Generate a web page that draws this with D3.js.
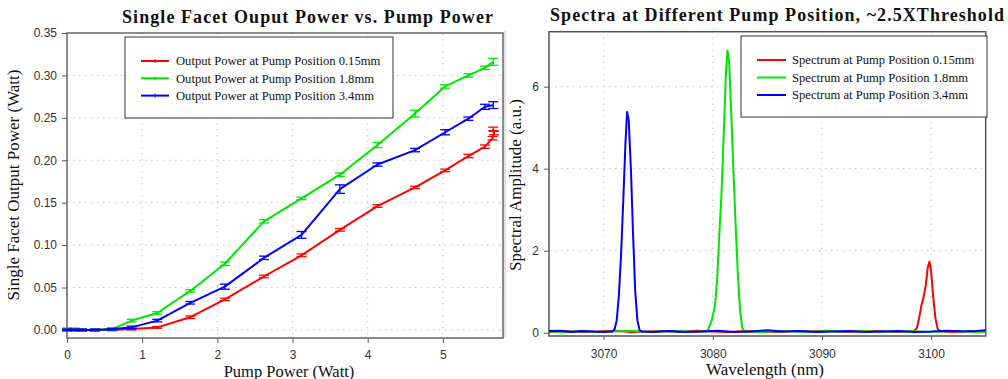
<!DOCTYPE html>
<html>
<head>
<meta charset="utf-8">
<script src="https://cdn.jsdelivr.net/npm/d3@7"></script>
<style>
  body { margin: 0; background: #fff; }
  svg { display: block; }
  .tick text { font-family: "Liberation Sans", Arial, sans-serif; font-size: 12px; fill: #333; }
  .tick line { stroke: #555; }
  .grid line { stroke: #c8c8c8; stroke-dasharray: 1.5,4.5; }
  .serif { font-family: "Liberation Serif", "Times New Roman", serif; fill: #111; }
</style>
</head>
<body>
<svg width="1008" height="379"></svg>
<script>
// left chart: output power vs pump power (x, y, error)
const seriesNames = ["Output Power at Pump Position 0.15mm", "Output Power at Pump Position 1.8mm", "Output Power at Pump Position 3.4mm"];
const specNames = ["Spectrum at Pump Position 0.15mm", "Spectrum at Pump Position 1.8mm", "Spectrum at Pump Position 3.4mm"];
const colors = ["#ff0000", "#00e600", "#0000ff"];

const powerRed = [
  [0, 0.001, 0.001], [0.1, 0.001, 0.001], [0.2, 0.0, 0.001], [0.37, 0.0, 0.001], [0.6, 0.0, 0.001],
  [0.86, 0.001, 0.001], [1.2, 0.003, 0.001], [1.64, 0.015, 0.0015], [2.1, 0.036, 0.0015], [2.62, 0.063, 0.0015],
  [3.12, 0.088, 0.0015], [3.63, 0.118, 0.0015], [4.13, 0.146, 0.0015], [4.63, 0.168, 0.0015], [5.03, 0.188, 0.0015],
  [5.34, 0.205, 0.002], [5.56, 0.216, 0.002], [5.66, 0.226, 0.002], [5.68, 0.232, 0.002], [5.67, 0.237, 0.002]
];
const powerGreen = [
  [0, 0.0, 0.001], [0.1, 0.0, 0.001], [0.2, 0.0, 0.001], [0.37, 0.0, 0.001], [0.6, 0.001, 0.001],
  [0.86, 0.011, 0.0015], [1.2, 0.020, 0.0015], [1.64, 0.046, 0.0015], [2.1, 0.078, 0.002], [2.62, 0.128, 0.002],
  [3.12, 0.155, 0.0015], [3.63, 0.183, 0.002], [4.13, 0.218, 0.003], [4.63, 0.255, 0.004], [5.03, 0.287, 0.002],
  [5.34, 0.300, 0.002], [5.56, 0.309, 0.002], [5.67, 0.316, 0.004]
];
const powerBlue = [
  [0, 0.0, 0.001], [0.1, 0.0, 0.001], [0.2, 0.0, 0.001], [0.37, 0.0, 0.001], [0.6, 0.001, 0.001],
  [0.86, 0.003, 0.0015], [1.2, 0.011, 0.0015], [1.64, 0.032, 0.0015], [2.1, 0.051, 0.003], [2.62, 0.085, 0.002],
  [3.12, 0.112, 0.004], [3.63, 0.166, 0.005], [4.13, 0.195, 0.002], [4.63, 0.212, 0.002], [5.03, 0.233, 0.003],
  [5.34, 0.249, 0.002], [5.56, 0.263, 0.003], [5.67, 0.265, 0.004]
];

const pumpTicks = [0, 1, 2, 3, 4, 5];
const powerTicks = [0, 0.05, 0.10, 0.15, 0.20, 0.25, 0.30, 0.35];

// right chart: spectra (wavelength nm, amplitude a.u.)
const specRed = [
  [3065, 0.02], [3066.5, 0.04], [3068, 0.02], [3069.5, 0.03], [3071, 0.05], [3072.5, 0.02], [3074, 0.03],
  [3075.5, 0.04], [3077, 0.02], [3078.5, 0.05], [3080, 0.03], [3081.5, 0.02], [3083, 0.04], [3084.5, 0.03],
  [3086, 0.02], [3087.5, 0.04], [3089, 0.03], [3090.5, 0.05], [3092, 0.02], [3093.5, 0.03], [3095, 0.04],
  [3096.5, 0.02], [3098, 0.03], [3098.4, 0.03], [3098.7, 0.12], [3098.9, 0.35], [3099.1, 0.65], [3099.3, 0.85],
  [3099.5, 1.15], [3099.7, 1.6], [3099.85, 1.73], [3100.0, 1.5], [3100.2, 0.85], [3100.4, 0.35], [3100.6, 0.1],
  [3100.8, 0.03], [3102, 0.02], [3103.5, 0.04], [3105, 0.03]
];
const specGreen = [
  [3065, 0.03], [3066.5, 0.02], [3068, 0.04], [3069.5, 0.02], [3071, 0.03], [3072.5, 0.05], [3074, 0.02],
  [3075.5, 0.03], [3077, 0.04], [3078.5, 0.02], [3079.4, 0.03], [3079.6, 0.08], [3079.9, 0.3], [3080.2, 0.65],
  [3080.4, 1.3], [3080.6, 2.4], [3080.8, 3.4], [3081.0, 4.8], [3081.2, 6.3], [3081.35, 6.88], [3081.5, 6.6],
  [3081.7, 5.3], [3081.9, 3.9], [3082.1, 2.6], [3082.3, 1.4], [3082.5, 0.55], [3082.7, 0.12], [3082.9, 0.03],
  [3084.5, 0.02], [3086, 0.04], [3087.5, 0.03], [3089, 0.02], [3090.5, 0.04], [3092, 0.03], [3093.5, 0.05],
  [3095, 0.02], [3096.5, 0.03], [3098, 0.04], [3099.5, 0.02], [3101, 0.03], [3102.5, 0.05], [3104, 0.02], [3105, 0.03]
];
const specBlue = [
  [3065, 0.04], [3066, 0.05], [3067, 0.02], [3068, 0.04], [3069, 0.03], [3070, 0.02], [3070.8, 0.03],
  [3071.0, 0.08], [3071.2, 0.3], [3071.4, 0.9], [3071.6, 1.9], [3071.8, 3.2], [3072.0, 4.6], [3072.15, 5.38],
  [3072.3, 5.2], [3072.5, 4.0], [3072.7, 2.4], [3072.9, 1.0], [3073.1, 0.3], [3073.3, 0.06], [3073.5, 0.03],
  [3074.5, 0.02], [3076, 0.04], [3077.5, 0.02], [3079, 0.03], [3080.5, 0.05], [3082, 0.02], [3083.5, 0.03],
  [3085, 0.06], [3086.5, 0.03], [3088, 0.04], [3089.5, 0.02], [3091, 0.03], [3092.5, 0.04], [3094, 0.02],
  [3095.5, 0.03], [3097, 0.04], [3098.5, 0.02], [3100, 0.03], [3101.5, 0.05], [3103, 0.03], [3104.2, 0.04], [3105, 0.06]
];
const waveTicks = [3070, 3080, 3090, 3100];
const ampTicks = [0, 2, 4, 6];

var svg = d3.select("svg");

// ---------- left panel ----------
var L = { left: 67, right: 503, top: 33, bottom: 338 };
var xL = d3.scaleLinear().domain([0, 5.8]).range([L.left, L.right]);
var yL = d3.scaleLinear().domain([-0.0095, 0.35]).range([L.bottom, L.top]);

var gl = svg.append("g");

gl.append("g").attr("class", "grid")
  .selectAll("line").data(pumpTicks.slice(1)).join("line")
  .attr("x1", d => xL(d)).attr("x2", d => xL(d))
  .attr("y1", L.top).attr("y2", L.bottom);
gl.append("g").attr("class", "grid")
  .selectAll("line").data(powerTicks.slice(0, -1)).join("line")
  .attr("x1", L.left).attr("x2", L.right)
  .attr("y1", d => yL(d)).attr("y2", d => yL(d));

gl.append("g")
  .attr("transform", "translate(0," + L.bottom + ")")
  .call(d3.axisBottom(xL).tickValues(pumpTicks).tickFormat(d3.format("d")).tickSize(5).tickPadding(7))
  .call(g => g.select(".domain").remove());
gl.append("g")
  .attr("transform", "translate(" + L.left + ",0)")
  .call(d3.axisLeft(yL).tickValues(powerTicks).tickFormat(d3.format(".2f")).tickSize(5).tickPadding(5))
  .call(g => g.select(".domain").remove());

gl.append("rect")
  .attr("x", L.left).attr("y", L.top)
  .attr("width", L.right - L.left).attr("height", L.bottom - L.top)
  .attr("fill", "none").attr("stroke", "#666").attr("stroke-width", 1.5);

var powerLine = d3.line().x(d => xL(d[0])).y(d => yL(d[1]));

[powerRed, powerGreen, powerBlue].forEach(function(s, i) {
  gl.append("path")
    .datum(s)
    .attr("fill", "none")
    .attr("stroke", colors[i])
    .attr("stroke-width", 2)
    .attr("stroke-linejoin", "round")
    .attr("d", powerLine);
  var eb = gl.append("g").attr("stroke", colors[i]).attr("stroke-width", 1.3);
  s.forEach(function(d) {
    var x = xL(d[0]), y0 = yL(d[1] - d[2]), y1 = yL(d[1] + d[2]);
    eb.append("line").attr("x1", x).attr("x2", x).attr("y1", y0).attr("y2", y1);
    eb.append("line").attr("x1", x - 5).attr("x2", x + 5).attr("y1", y0).attr("y2", y0);
    eb.append("line").attr("x1", x - 5).attr("x2", x + 5).attr("y1", y1).attr("y2", y1);
  });
});

// legend left
var legL = gl.append("g");
legL.append("rect")
  .attr("x", 125).attr("y", 37).attr("width", 268).attr("height", 81)
  .attr("fill", "#fff").attr("stroke", "#333").attr("stroke-width", 1);
seriesNames.forEach(function(n, i) {
  var y = 61 + i * 17.3;
  legL.append("line").attr("x1", 141).attr("x2", 169).attr("y1", y).attr("y2", y)
    .attr("stroke", colors[i]).attr("stroke-width", 2);
  legL.append("line").attr("x1", 155).attr("x2", 155).attr("y1", y - 2).attr("y2", y + 2)
    .attr("stroke", colors[i]).attr("stroke-width", 1);
  legL.append("text").attr("class", "serif")
    .attr("x", 176).attr("y", y + 4.3)
    .attr("font-size", 12.6)
    .text(n);
});

gl.append("text").attr("class", "serif")
  .attr("x", 122).attr("y", 22.5)
  .attr("font-size", 18).attr("font-weight", "bold")
  .attr("textLength", 371).attr("lengthAdjust", "spacing")
  .text("Single Facet Ouput Power vs. Pump Power");
gl.append("text").attr("class", "serif")
  .attr("x", 289).attr("y", 376.5)
  .attr("text-anchor", "middle").attr("font-size", 16.5)
  .text("Pump Power (Watt)");
gl.append("text").attr("class", "serif")
  .attr("transform", "translate(19,185) rotate(-90)")
  .attr("text-anchor", "middle").attr("font-size", 17)
  .text("Single Facet Output Power (Watt)");

// ---------- right panel ----------
var R = { left: 549, right: 985.7, top: 31.7, bottom: 336 };
var xR = d3.scaleLinear().domain([3065, 3105]).range([R.left, R.right]);
var yR = d3.scaleLinear().domain([-0.08, 7.34]).range([R.bottom, R.top]);

var gr = svg.append("g");

gr.append("line").attr("x1", 505).attr("x2", 505).attr("y1", 30).attr("y2", 337)
  .attr("stroke", "#d8d8d8").attr("stroke-width", 1.5);

gr.append("g").attr("class", "grid")
  .selectAll("line").data(waveTicks).join("line")
  .attr("x1", d => xR(d)).attr("x2", d => xR(d))
  .attr("y1", R.top).attr("y2", R.bottom);
gr.append("g").attr("class", "grid")
  .selectAll("line").data(ampTicks.slice(1)).join("line")
  .attr("x1", R.left).attr("x2", R.right)
  .attr("y1", d => yR(d)).attr("y2", d => yR(d));

gr.append("g")
  .attr("transform", "translate(0," + R.bottom + ")")
  .call(d3.axisBottom(xR).tickValues(waveTicks).tickFormat(d3.format("d")).tickSize(4).tickPadding(9))
  .call(g => g.select(".domain").remove());
gr.append("g")
  .attr("transform", "translate(" + R.left + ",0)")
  .call(d3.axisLeft(yR).tickValues(ampTicks).tickFormat(d3.format("d")).tickSize(5).tickPadding(5))
  .call(g => g.select(".domain").remove());

gr.append("rect")
  .attr("x", R.left).attr("y", R.top)
  .attr("width", R.right - R.left).attr("height", R.bottom - R.top)
  .attr("fill", "none").attr("stroke", "#555").attr("stroke-width", 1.5);

var specLine = d3.line().x(d => xR(d[0])).y(d => yR(d[1]));
[specRed, specGreen, specBlue].forEach(function(s, i) {
  gr.append("path")
    .datum(s)
    .attr("fill", "none")
    .attr("stroke", colors[i])
    .attr("stroke-width", 2)
    .attr("stroke-linejoin", "round")
    .attr("d", specLine);
});

var legR = gr.append("g");
legR.append("rect")
  .attr("x", 741).attr("y", 36).attr("width", 246).attr("height", 81)
  .attr("fill", "#fff").attr("stroke", "#333").attr("stroke-width", 1);
specNames.forEach(function(n, i) {
  var y = 60 + i * 17.5;
  legR.append("line").attr("x1", 757).attr("x2", 786).attr("y1", y).attr("y2", y)
    .attr("stroke", colors[i]).attr("stroke-width", 2);
  legR.append("text").attr("class", "serif")
    .attr("x", 792).attr("y", y + 4.3)
    .attr("font-size", 12.6)
    .text(n);
});

gr.append("text").attr("class", "serif")
  .attr("x", 550).attr("y", 20.5)
  .attr("font-size", 18).attr("font-weight", "bold")
  .attr("textLength", 454).attr("lengthAdjust", "spacing")
  .text("Spectra at Different Pump Position, ~2.5XThreshold");
gr.append("text").attr("class", "serif")
  .attr("x", 765).attr("y", 375)
  .attr("text-anchor", "middle").attr("font-size", 17)
  .text("Wavelength (nm)");
gr.append("text").attr("class", "serif")
  .attr("transform", "translate(521,185) rotate(-90)")
  .attr("text-anchor", "middle").attr("font-size", 17)
  .text("Spectral Amplitude (a.u.)");
</script>
</body>
</html>
